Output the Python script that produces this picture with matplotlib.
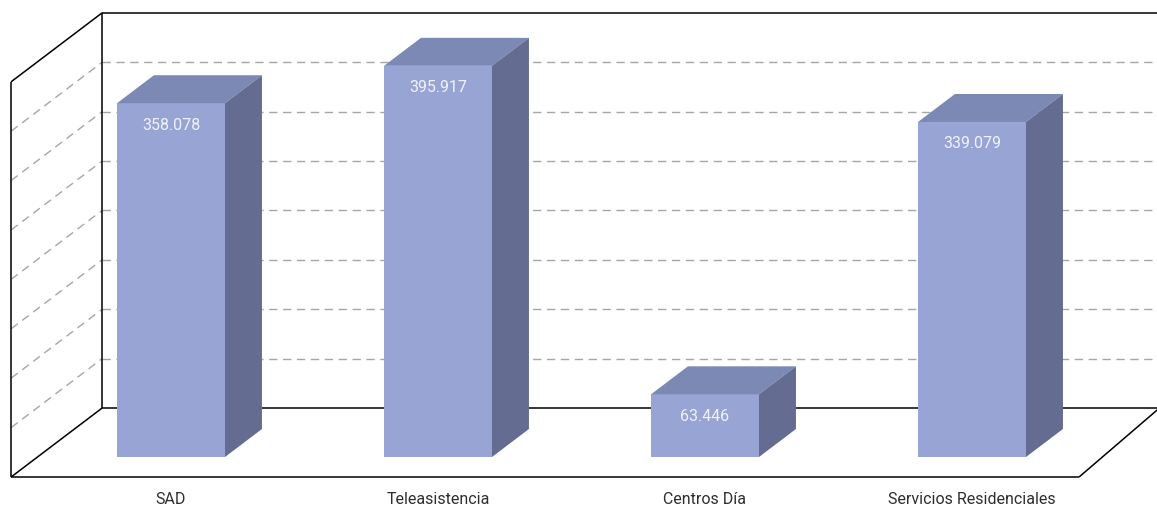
import matplotlib
matplotlib.use("Agg")
import matplotlib.pyplot as plt
from matplotlib.patches import Polygon
import numpy as np

categories = ["SAD", "Teleasistencia", "Centros Día", "Servicios Residenciales"]
values = [358078, 395917, 63446, 339079]
grid_values = [50000, 100000, 150000, 200000, 250000, 300000, 350000]
v_max = 400000

# colours of the three bar faces
c_front = "#98A4D4"
c_top = "#7C89B4"
c_side = "#646D91"

W, H = 1157, 509
X0, XS = 171.0, 267.0      # px of first category, px per category
Y0, YS = 457.0, 0.000988   # px of baseline (from top), px per unit
SLANT = 1.32               # horizontal px per px of depth


def shift(d):
    # depth d (px, going back) -> offset in data units
    return SLANT * d / XS, d / YS


fig = plt.figure(figsize=(W / 100, H / 100), dpi=100)
ax = fig.add_axes([0, 0, 1, 1])
ax.set_xlim(-X0 / XS, (W - X0) / XS)
ax.set_ylim((Y0 - H) / YS, Y0 / YS)
ax.axis("off")

fam = ["Roboto", "DejaVu Sans"]
x = np.arange(len(categories))
left, right = -0.5, len(categories) - 0.5
d_front, d_back = -20, 49
fx, fy = shift(d_front)
bx, by = shift(d_back)
right_px = (W - X0) / XS + 0.1

kw_line = dict(color="black", lw=1.1, solid_capstyle="butt", zorder=2)
kw_grid = dict(color="#A6A6A6", lw=1.0, ls=(0, (6, 4)), zorder=1)

# grid on back wall and left wall
for g in grid_values:
    ax.plot([left + bx, right_px], [g + by, g + by], **kw_grid)
    ax.plot([left + fx, left + bx], [g + fy, g + by], **kw_grid)

# back wall
ax.plot([left + bx, right_px], [v_max + by, v_max + by], **kw_line)
ax.plot([left + bx, left + bx], [by, v_max + by], **kw_line)
ax.plot([left + bx, right_px], [by, by], **kw_line)
# left wall
ax.plot([left + fx, left + fx], [fy, v_max + fy], **kw_line)
ax.plot([left + fx, left + bx], [v_max + fy, v_max + by], **kw_line)
ax.plot([left + fx, left + bx], [fy, by], **kw_line)
# floor
ax.plot([left + fx, right + fx], [fy, fy], **kw_line)
ax.plot([right + fx, right + bx - 0.04], [fy, by], **kw_line)

# bars
width = 108 / XS
dx, dy = shift(28)
ax.bar(x, values, width=width, color=c_front, zorder=3)
for xi, v in zip(x, values):
    x1, x2 = xi - width / 2, xi + width / 2
    ax.add_patch(Polygon([(x1, v), (x2, v), (x2 + dx, v + dy), (x1 + dx, v + dy)],
                         closed=True, facecolor=c_top, edgecolor="none", zorder=3))
    ax.add_patch(Polygon([(x2, 0), (x2, v), (x2 + dx, v + dy), (x2 + dx, dy)],
                         closed=True, facecolor=c_side, edgecolor="none", zorder=3))
    lab = f"{v:,}".replace(",", ".")
    ax.annotate(lab, (xi, v), xytext=(0, -22), textcoords="offset pixels",
                ha="center", va="center", color="#F0F2FB", fontsize=11.5,
                family=fam, zorder=4)

for xi, name in zip(x, categories):
    ax.annotate(name, (xi, 0), xytext=(0, -42), textcoords="offset pixels",
                ha="center", va="center", color="#2E2E2E", fontsize=11.5,
                family=fam)

plt.savefig("out.png", dpi=100)
plt.close()
